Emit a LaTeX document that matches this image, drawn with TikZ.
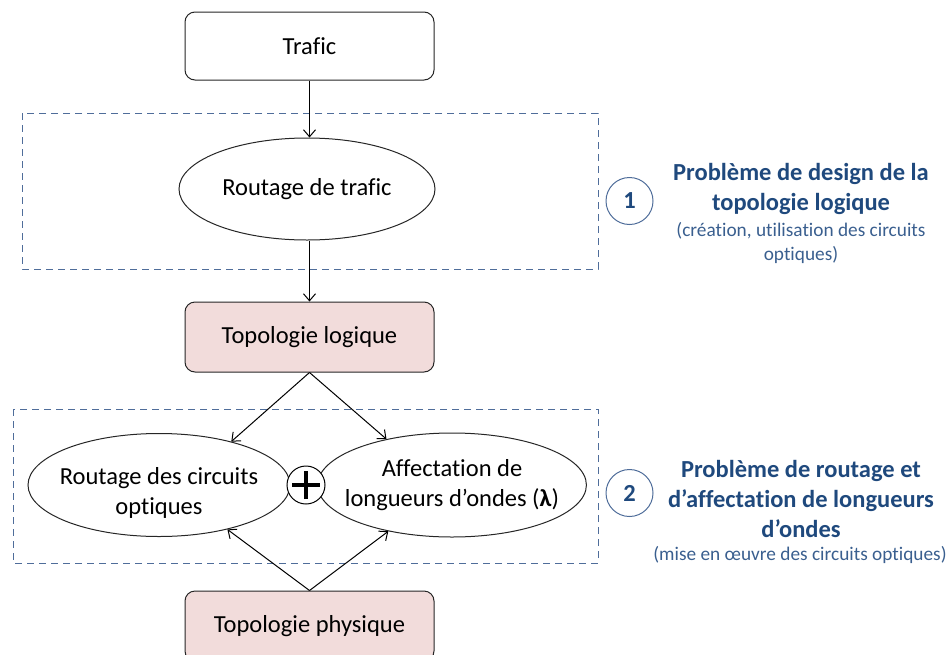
\documentclass[tikz,border=0pt]{standalone}
\usepackage{fontspec}
\setmainfont{Carlito}[Ligatures=NoCommon]
\usepackage{xcolor}
\usepackage{tikz}
\usetikzlibrary{positioning,arrows.meta,shapes.geometric}

\definecolor{pinkfill}{HTML}{F2DCDB}
\definecolor{titleblue}{HTML}{1F497D}
\definecolor{noteblue}{HTML}{3A5F8F}
\definecolor{dashblue}{HTML}{4F6D9A}

\begin{document}
\begin{tikzpicture}[
x=1pt,y=-1pt,
>={Straight Barb[length=7pt,width=12pt]},
font=\fontsize{24.5}{30}\selectfont,
box/.style={
draw=black!85,
line width=1pt,
rounded corners=10pt,
minimum width=249pt,
minimum height=68pt,
align=center,
fill=white
},
pinkbox/.style={
box,
fill=pinkfill
},
oval/.style={
draw=black!85,
line width=1pt,
ellipse,
inner xsep=-12pt,
inner ysep=0pt,
align=center,
fill=white
},
groupbox/.style={
draw=dashblue,
line width=1pt,
dash pattern=on 7pt off 5pt
},
stepnum/.style={
draw=dashblue,
line width=1pt,
circle,
minimum size=47pt,
inner sep=0pt,
text=titleblue,
font=\fontsize{24.5}{30}\selectfont\bfseries
},
title/.style={
align=center,
text=titleblue,
font=\fontsize{24.5}{30}\selectfont\bfseries
},
note/.style={
align=center,
text=noteblue,
font=\fontsize{19.3}{24}\selectfont
},
link/.style={
->,
line width=1pt
}
]

\useasboundingbox (0,0) rectangle (946,654);

%%%%%%%%%%%%%%%%%%%%%%%%%%%%%%%%%%%%%%%%%%%%%
% Groups
%%%%%%%%%%%%%%%%%%%%%%%%%%%%%%%%%%%%%%%%%%%%%

\draw[groupbox] (22,113) rectangle (598,269);

\draw[groupbox] (13,409) rectangle (598,563);

%%%%%%%%%%%%%%%%%%%%%%%%%%%%%%%%%%%%%%%%%%%%%
% Main Column
%%%%%%%%%%%%%%%%%%%%%%%%%%%%%%%%%%%%%%%%%%%%%

\node[box] (trafic) at (309.5,46)
{Trafic};

\node[oval,minimum width=256pt,minimum height=102pt,below=57pt of trafic,xshift=-2.5pt] (routage)
{Routage de trafic};

\node[pinkbox,minimum height=70pt,below=61pt of routage,xshift=2.5pt] (toplog)
{Topologie logique};

\node[pinkbox,minimum height=70pt,below=218pt of toplog] (topphys)
{Topologie physique};

%%%%%%%%%%%%%%%%%%%%%%%%%%%%%%%%%%%%%%%%%%%%%
% Optical Problems
%%%%%%%%%%%%%%%%%%%%%%%%%%%%%%%%%%%%%%%%%%%%%

\node[oval,minimum width=262pt,minimum height=103pt,
label={[align=center,yshift=-8pt]center:Routage des circuits\\optiques}] (rcirc) at (159,485) {};

\node[oval,minimum width=260pt,minimum height=104pt] (affect) at (452,485)
{Affectation de\\longueurs d’ondes (\textbf{λ})};

\node[circle,draw=black,line width=1pt,minimum size=38pt,inner sep=0pt,fill=white] (plus) at (306,485) {};

\draw[line width=3.5pt] ([xshift=-14pt]plus.center)--([xshift=14pt]plus.center);
\draw[line width=3.5pt] ([yshift=-14pt]plus.center)--([yshift=14pt]plus.center);

%%%%%%%%%%%%%%%%%%%%%%%%%%%%%%%%%%%%%%%%%%%%%
% Captions
%%%%%%%%%%%%%%%%%%%%%%%%%%%%%%%%%%%%%%%%%%%%%

\node[stepnum] (one) at (629.5,201) {1};

\node[title] (title1) at (801,188.5)
{Problème de design de la\\topologie logique};

\node[note] (note1) at (801,243)
{(création, utilisation des circuits\\optiques)};

\node[stepnum] (two) at (629.5,493) {2};

\node[title] (title2) at (801,498.5)
{Problème de routage et\\d’affectation de longueurs\\d’ondes};

\node[note] (note2) at (800,555)
{(mise en œuvre des circuits optiques)};

%%%%%%%%%%%%%%%%%%%%%%%%%%%%%%%%%%%%%%%%%%%%%
% Connections
%%%%%%%%%%%%%%%%%%%%%%%%%%%%%%%%%%%%%%%%%%%%%

\draw[link] (trafic.south)--(trafic.south |- routage.north);

\draw[link] (toplog.north |- routage.south)--(toplog.north);

\draw[link] (toplog.south)--(rcirc.31);

\draw[link] (toplog.south)--(affect.145);

\draw[link] (topphys.north)--(rcirc.327);

\draw[link] (topphys.north)--(affect.216);

\end{tikzpicture}
\end{document}
